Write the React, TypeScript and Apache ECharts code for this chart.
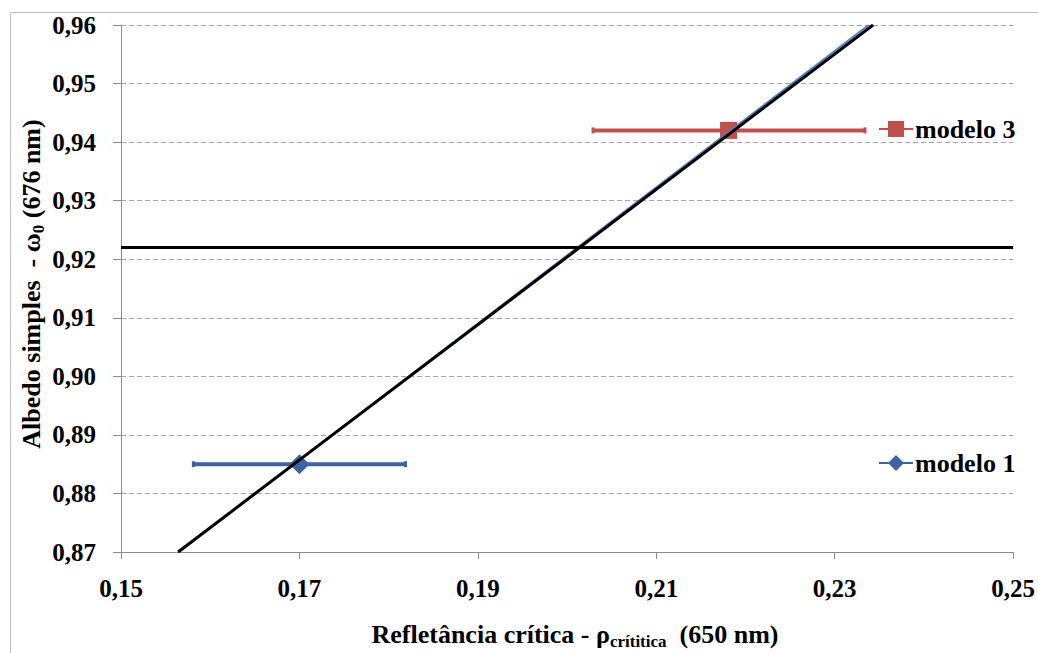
import React, { useEffect, useRef } from "react";
import * as echarts from "echarts";

// ---- data ----
const xTicks = [0.15, 0.17, 0.19, 0.21, 0.23, 0.25];
const yTicks = [0.87, 0.88, 0.89, 0.9, 0.91, 0.92, 0.93, 0.94, 0.95, 0.96];
const seriesNames = ["modelo 1", "modelo 3"];
const modelo1Point = [0.17, 0.885];
const modelo1ErrX = [0.158, 0.182];
const modelo3Point = [0.2181, 0.942];
const modelo3ErrX = [0.2028, 0.2335];
const horizontalLine = [
  [0.15, 0.922],
  [0.25, 0.922],
];
const diagonalLine = [
  [0.1564, 0.87],
  [0.2343, 0.96],
];
const trendLine = [
  [0.1565, 0.87],
  [0.2338, 0.96],
];

const BLUE = "#3B64A0";
const RED = "#C0504D";
const FONT = "Liberation Serif";

const fmt = (v: number) => v.toFixed(2).replace(".", ",");

function errorBarRender(color: string) {
  return (params: any, api: any) => {
    const y = api.value(2);
    const lo = api.coord([api.value(0), y]);
    const hi = api.coord([api.value(1), y]);
    const c = 3;
    return {
      type: "group",
      children: [
        {
          type: "line",
          shape: { x1: lo[0], y1: lo[1], x2: hi[0], y2: hi[1] },
          style: { stroke: color, lineWidth: 4 },
        },
        {
          type: "line",
          shape: { x1: lo[0] + 1, y1: lo[1] - c, x2: lo[0] + 1, y2: lo[1] + c },
          style: { stroke: color, lineWidth: 3 },
        },
        {
          type: "line",
          shape: { x1: hi[0] - 1, y1: hi[1] - c, x2: hi[0] - 1, y2: hi[1] + c },
          style: { stroke: color, lineWidth: 3 },
        },
      ],
    };
  };
}

const legendText = {
  fontFamily: FONT,
  fontWeight: "bold",
  fontSize: 26,
  color: "#000",
  padding: [0, 0, 0, -3],
};

export default function App() {
  const ref = useRef<HTMLDivElement>(null);
  useEffect(() => {
    if (!ref.current) return;
    const chart = echarts.init(ref.current, null, { renderer: "svg" });
    const option: any = {
      animation: false,
      backgroundColor: "#ffffff",
      textStyle: { fontFamily: FONT },
      grid: { left: 121, right: 20, top: 25, bottom: 101, containLabel: false },
      xAxis: {
        type: "value",
        min: xTicks[0],
        max: xTicks[xTicks.length - 1],
        interval: 0.02,
        axisLine: { show: true, lineStyle: { color: "#8c8c8c", width: 1 } },
        axisTick: { show: true, length: 7, lineStyle: { color: "#8c8c8c" } },
        splitLine: { show: false },
        axisLabel: {
          margin: 24,
          fontFamily: FONT,
          fontWeight: "bold",
          fontSize: 25,
          color: "#000",
          formatter: (v: number) => fmt(v),
        },
      },
      yAxis: {
        type: "value",
        min: yTicks[0],
        max: yTicks[yTicks.length - 1],
        interval: 0.01,
        axisLine: { show: true, lineStyle: { color: "#8c8c8c", width: 1 } },
        axisTick: { show: true, length: 8, lineStyle: { color: "#8c8c8c" } },
        splitLine: {
          show: true,
          lineStyle: { color: "#a6a6a6", type: [5, 3], width: 1 },
        },
        axisLabel: {
          margin: 25,
          fontFamily: FONT,
          fontWeight: "bold",
          fontSize: 25,
          color: "#000",
          formatter: (v: number) => fmt(v),
        },
      },
      legend: [
        {
          data: [seriesNames[1]],
          left: 878,
          top: 116,
          padding: 0,
          itemWidth: 34,
          itemHeight: 20,
          itemGap: 2,
          textStyle: legendText,
        },
        {
          data: [seriesNames[0]],
          left: 878,
          top: 450,
          padding: 0,
          itemWidth: 34,
          itemHeight: 20,
          itemGap: 2,
          textStyle: legendText,
        },
      ],
      graphic: [
        {
          type: "rect",
          left: 8,
          top: 10,
          shape: { width: 1100, height: 700 },
          style: { fill: "none", stroke: "#bfbfbf", lineWidth: 1 },
          silent: true,
          z: -10,
        },
        {
          type: "text",
          x: 31,
          y: 284,
          rotation: Math.PI / 2,
          style: {
            text: "{a|Albedo simples  - ω}{s|0}{a| (676 nm)}",
            align: "center",
            verticalAlign: "middle",
            fill: "#000",
            rich: {
              a: { fontFamily: FONT, fontWeight: "bold", fontSize: 26, lineHeight: 32, verticalAlign: "middle" },
              s: { fontFamily: FONT, fontWeight: "bold", fontSize: 17, lineHeight: 32, verticalAlign: "bottom" },
            },
          },
        },
        {
          type: "text",
          x: 575,
          y: 634,
          style: {
            text: "{a|Refletância crítica - ρ}{s|crítitica}{a|  (650 nm)}",
            align: "center",
            verticalAlign: "middle",
            fill: "#000",
            rich: {
              a: { fontFamily: FONT, fontWeight: "bold", fontSize: 26, lineHeight: 32, verticalAlign: "middle" },
              s: { fontFamily: FONT, fontWeight: "bold", fontSize: 17, lineHeight: 32, verticalAlign: "bottom" },
            },
          },
        },
      ],
      series: [
        {
          name: "err1",
          type: "custom",
          renderItem: errorBarRender(BLUE),
          encode: { x: [0, 1], y: 2 },
          data: [[modelo1ErrX[0], modelo1ErrX[1], modelo1Point[1]]],
          silent: true,
          z: 2,
        },
        {
          name: "err3",
          type: "custom",
          renderItem: errorBarRender(RED),
          encode: { x: [0, 1], y: 2 },
          data: [[modelo3ErrX[0], modelo3ErrX[1], modelo3Point[1]]],
          silent: true,
          z: 2,
        },
        {
          name: seriesNames[0],
          type: "line",
          data: [modelo1Point],
          symbol: "diamond",
          symbolSize: 20,
          itemStyle: { color: BLUE },
          lineStyle: { color: BLUE, width: 4 },
          z: 3,
        },
        {
          name: seriesNames[1],
          type: "line",
          data: [modelo3Point],
          symbol: "rect",
          symbolSize: 17,
          itemStyle: { color: RED },
          lineStyle: { color: RED, width: 4 },
          z: 3,
        },
        {
          name: "trend",
          type: "line",
          data: trendLine,
          symbol: "none",
          lineStyle: { color: "#4F81BD", width: 2 },
          silent: true,
          z: 4,
        },
        {
          name: "diag",
          type: "line",
          data: diagonalLine,
          symbol: "none",
          lineStyle: { color: "#000", width: 3 },
          silent: true,
          z: 5,
        },
        {
          name: "horiz",
          type: "line",
          data: horizontalLine,
          symbol: "none",
          lineStyle: { color: "#000", width: 3 },
          silent: true,
          z: 5,
        },
      ],
    };
    chart.setOption(option);
    return () => chart.dispose();
  }, []);
  return (
    <div
      ref={ref}
      style={{ position: "fixed", left: 0, top: 0, width: 1038, height: 653, background: "#fff" }}
    />
  );
}
